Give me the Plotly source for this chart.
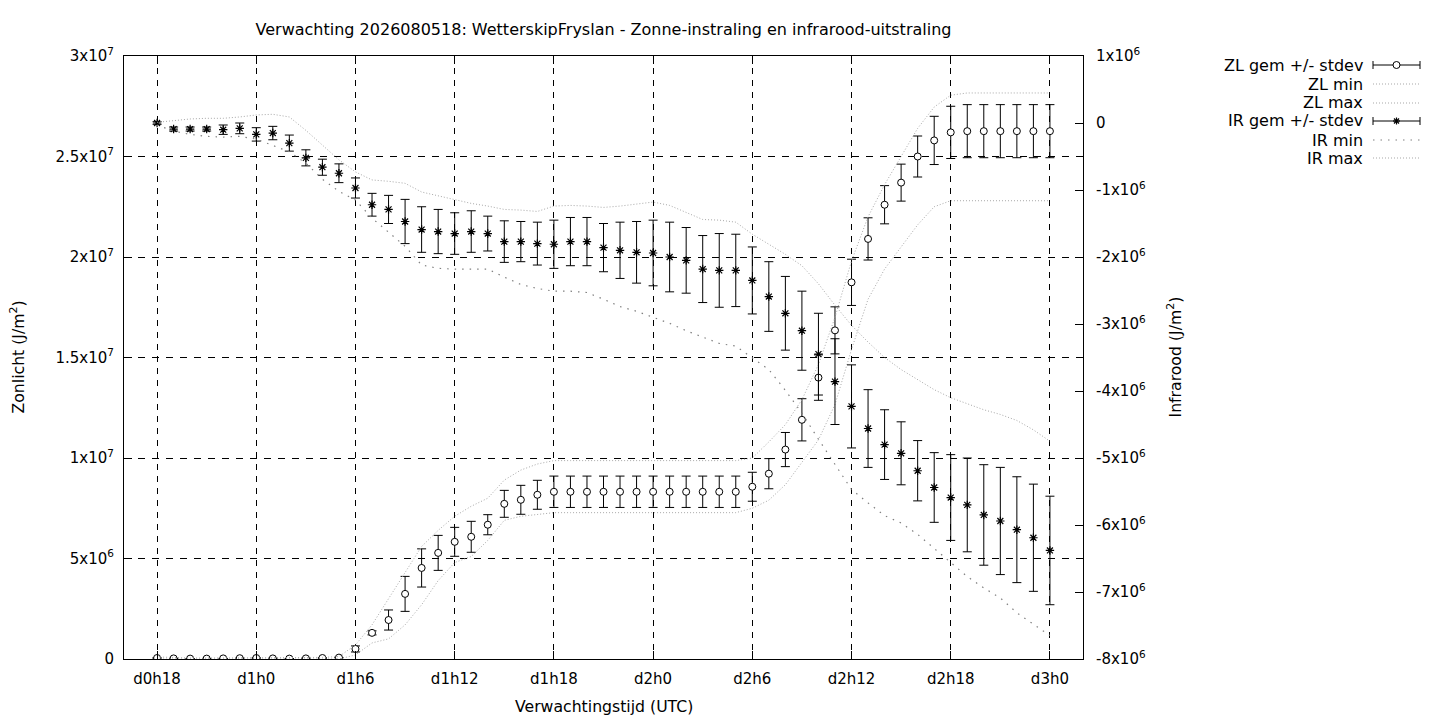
import plotly.graph_objects as go
import numpy as np

# uren sinds d0h0, één punt per uur
uren = list(range(18, 73))

x_tickvals = [18, 24, 30, 36, 42, 48, 54, 60, 66, 72]
x_ticktext = ["d0h18", "d1h0", "d1h6", "d1h12", "d1h18", "d2h0", "d2h6", "d2h12", "d2h18", "d3h0"]

# zonlicht in MJ/m2
zl_gem = [0.05, 0.03, 0.02, 0.02, 0.03, 0.04, 0.05, 0.03, 0.02, 0.03, 0.05, 0.07,
          0.5, 1.3, 1.94, 3.24, 4.53, 5.28, 5.83, 6.08, 6.68, 7.72, 7.92, 8.17,
          8.32, 8.32, 8.32, 8.32, 8.32, 8.32, 8.32, 8.32, 8.32, 8.32, 8.32, 8.32,
          8.57, 9.22, 10.42, 11.9, 14.0, 16.35, 18.74, 20.9, 22.6, 23.7, 25.0, 25.8, 26.2,
          26.26, 26.26, 26.26, 26.26, 26.26, 26.26]
zl_sd = [0, 0, 0, 0, 0, 0, 0, 0, 0, 0, 0, 0,
         0.15, 0.1, 0.5, 0.87, 0.95, 0.87, 0.72, 0.77, 0.5, 0.67, 0.72, 0.72,
         0.78, 0.78, 0.78, 0.78, 0.78, 0.78, 0.78, 0.78, 0.78, 0.78, 0.78, 0.78,
         0.72, 0.75, 0.85, 1.05, 1.13, 1.17, 1.15, 1.05, 0.95, 0.92, 1.02, 1.2, 1.3,
         1.32, 1.32, 1.32, 1.32, 1.32, 1.32]
zl_min = [0, 0, 0, 0, 0, 0, 0, 0, 0, 0, 0, 0,
          0.2, 0.8, 1.0, 1.7, 2.7, 3.9, 4.8, 5.1, 5.9, 6.9, 7.1, 7.2,
          7.28, 7.28, 7.28, 7.28, 7.28, 7.28, 7.28, 7.28, 7.28, 7.28, 7.28, 7.28,
          7.5, 7.9, 8.67, 9.77, 10.9, 12.66, 15.4, 17.9, 19.4, 20.5, 21.6, 22.5, 22.8,
          22.8, 22.8, 22.8, 22.8, 22.8, 22.8]
zl_max = [0.1, 0.06, 0.05, 0.05, 0.05, 0.06, 0.08, 0.06, 0.05, 0.06, 0.08, 0.12,
          0.7, 1.7, 3.0, 4.3, 5.6, 6.4, 7.1, 7.6, 8.0, 8.9, 9.4, 9.7,
          9.87, 9.87, 9.87, 9.87, 9.87, 9.87, 9.87, 9.87, 9.87, 9.87, 9.87, 9.87,
          10.0, 10.8, 11.66, 12.9, 14.65, 17.0, 19.8, 22.0, 23.6, 25.0, 26.4, 27.46, 28.05,
          28.16, 28.16, 28.16, 28.16, 28.16, 28.16]

# infrarood in MJ/m2
ir_gem = [0.0, -0.09, -0.09, -0.09, -0.10, -0.08, -0.17, -0.15, -0.30, -0.52, -0.66, -0.75,
          -0.97, -1.22, -1.29, -1.47, -1.59, -1.62, -1.65, -1.62, -1.65, -1.77, -1.77, -1.80,
          -1.81, -1.77, -1.77, -1.86, -1.90, -1.93, -1.94, -2.00, -2.05, -2.18, -2.20, -2.20,
          -2.35, -2.59, -2.84, -3.10, -3.45, -3.86, -4.23, -4.56, -4.80, -4.93, -5.19, -5.44, -5.59,
          -5.70, -5.85, -5.94, -6.07, -6.19, -6.38]
ir_sd = [0.02, 0.03, 0.03, 0.03, 0.07, 0.08, 0.10, 0.10, 0.12, 0.12, 0.12, 0.14,
         0.15, 0.17, 0.21, 0.33, 0.34, 0.33, 0.31, 0.31, 0.26, 0.31, 0.30, 0.32,
         0.36, 0.36, 0.36, 0.36, 0.42, 0.46, 0.49, 0.52, 0.49, 0.50, 0.55, 0.54,
         0.50, 0.52, 0.55, 0.59, 0.61, 0.64, 0.62, 0.58, 0.52, 0.47, 0.45, 0.52, 0.64,
         0.70, 0.75, 0.80, 0.79, 0.80, 0.81]
ir_min = [-0.03, -0.12, -0.17, -0.20, -0.21, -0.20, -0.24, -0.33, -0.43, -0.60, -0.84, -1.02,
          -1.15, -1.42, -1.63, -1.84, -2.12, -2.17, -2.18, -2.18, -2.18, -2.30, -2.41, -2.47,
          -2.51, -2.51, -2.53, -2.63, -2.74, -2.81, -2.90, -2.99, -3.10, -3.20, -3.29, -3.33,
          -3.50, -3.68, -3.99, -4.33, -4.72, -5.10, -5.47, -5.67, -5.86, -5.97, -6.14, -6.35, -6.56,
          -6.77, -6.94, -7.09, -7.31, -7.48, -7.65]
ir_max = [0.01, 0.04, 0.06, 0.07, 0.07, 0.09, 0.12, 0.13, 0.09, -0.11, -0.33, -0.55,
          -0.73, -0.85, -0.87, -0.90, -1.03, -1.09, -1.14, -1.20, -1.24, -1.29, -1.30, -1.32,
          -1.24, -1.23, -1.24, -1.26, -1.24, -1.21, -1.18, -1.23, -1.33, -1.44, -1.45, -1.48,
          -1.66, -1.81, -1.96, -2.13, -2.40, -2.72, -3.02, -3.27, -3.50, -3.68, -3.83, -3.98, -4.10,
          -4.19, -4.28, -4.35, -4.44, -4.58, -4.75]

zl_tickvals = [0, 5e6, 1e7, 1.5e7, 2e7, 2.5e7, 3e7]
zl_ticktext = ["0", "5x10<sup>6</sup>", "1x10<sup>7</sup>", "1.5x10<sup>7</sup>",
               "2x10<sup>7</sup>", "2.5x10<sup>7</sup>", "3x10<sup>7</sup>"]
ir_tickvals = [-8e6, -7e6, -6e6, -5e6, -4e6, -3e6, -2e6, -1e6, 0, 1e6]
ir_ticktext = ["-8x10<sup>6</sup>", "-7x10<sup>6</sup>", "-6x10<sup>6</sup>", "-5x10<sup>6</sup>",
               "-4x10<sup>6</sup>", "-3x10<sup>6</sup>", "-2x10<sup>6</sup>", "-1x10<sup>6</sup>",
               "0", "1x10<sup>6</sup>"]

M = 1e6
FONT = "DejaVu Sans"
DOT_FIJN = "1px,2px"
DOT_GROF = "1.5px,6px"
GRIJS = "#a8a8a8"
GRIJS_DONKER = "#808080"

# plotgebied in pixels (voor legenda en titels)
PL, PR, PT, PB = 124, 1083, 56, 659


def px_x(px):
    return (px - PL) / (PR - PL)


def px_y(py):
    return (PB - py) / (PB - PT)


fig = go.Figure()

# zonlicht
fig.add_trace(go.Scatter(
    x=uren, y=np.array(zl_gem) * M, mode="markers", name="ZL gem +/- stdev",
    error_y=dict(type="data", array=np.array(zl_sd) * M, color="black", thickness=1, width=4.5),
    marker=dict(symbol="circle", size=7, color="white", line=dict(color="black", width=1)),
))
fig.add_trace(go.Scatter(x=uren, y=np.array(zl_min) * M, mode="lines", name="ZL min",
                         line=dict(color=GRIJS, width=1, dash=DOT_FIJN)))
fig.add_trace(go.Scatter(x=uren, y=np.array(zl_max) * M, mode="lines", name="ZL max",
                         line=dict(color=GRIJS, width=1, dash=DOT_FIJN)))

# infrarood
fig.add_trace(go.Scatter(
    x=uren, y=np.array(ir_gem) * M, mode="markers", name="IR gem +/- stdev", yaxis="y2",
    error_y=dict(type="data", array=np.array(ir_sd) * M, color="black", thickness=1, width=4.5),
    marker=dict(symbol="asterisk-open", size=7, color="black", line=dict(color="black", width=1.2)),
))
fig.add_trace(go.Scatter(x=uren, y=np.array(ir_min) * M, mode="lines", name="IR min", yaxis="y2",
                         line=dict(color=GRIJS_DONKER, width=1.2, dash=DOT_GROF)))
fig.add_trace(go.Scatter(x=uren, y=np.array(ir_max) * M, mode="lines", name="IR max", yaxis="y2",
                         line=dict(color=GRIJS, width=1, dash=DOT_FIJN)))

# legenda op gnuplot-manier: tekst rechts uitgelijnd, voorbeeld erachter
legenda = [
    ("ZL gem +/- stdev", "fout_cirkel"),
    ("ZL min", "fijn"),
    ("ZL max", "fijn"),
    ("IR gem +/- stdev", "fout_ster"),
    ("IR min", "grof"),
    ("IR max", "fijn"),
]
rij_y = [65, 84, 103, 121, 140, 158]
lx0, lx1, lxm = 1373, 1420, 1396.5
shapes = []
annotations = []
for (tekst, stijl), ry in zip(legenda, rij_y):
    annotations.append(dict(text=tekst, x=px_x(1365), y=px_y(ry), xref="paper", yref="paper",
                            xanchor="right", yanchor="middle", showarrow=False,
                            font=dict(family=FONT, size=16, color="black")))
    if stijl.startswith("fout"):
        shapes.append(dict(type="line", xref="paper", yref="paper", x0=px_x(lx0), x1=px_x(lx1),
                           y0=px_y(ry), y1=px_y(ry), line=dict(color="black", width=1)))
        for cx in (lx0, lx1):
            shapes.append(dict(type="line", xref="paper", yref="paper", x0=px_x(cx), x1=px_x(cx),
                               y0=px_y(ry - 4), y1=px_y(ry + 4), line=dict(color="black", width=1)))
        if stijl == "fout_cirkel":
            shapes.append(dict(type="circle", xref="paper", yref="paper",
                               x0=px_x(lxm - 3.5), x1=px_x(lxm + 3.5), y0=px_y(ry + 3.5), y1=px_y(ry - 3.5),
                               fillcolor="white", line=dict(color="black", width=1)))
        else:
            for dx, dy in ((3.5, 0), (0, 3.5), (2.5, 2.5), (2.5, -2.5)):
                shapes.append(dict(type="line", xref="paper", yref="paper",
                                   x0=px_x(lxm - dx), x1=px_x(lxm + dx), y0=px_y(ry - dy), y1=px_y(ry + dy),
                                   line=dict(color="black", width=1.2)))
    else:
        shapes.append(dict(type="line", xref="paper", yref="paper", x0=px_x(lx0), x1=px_x(lx1),
                           y0=px_y(ry), y1=px_y(ry),
                           line=dict(color=GRIJS_DONKER if stijl == "grof" else GRIJS, width=1.2,
                                     dash=DOT_GROF if stijl == "grof" else DOT_FIJN)))

# astitels
titel_font = dict(family=FONT, size=15.7, color="black")
annotations += [
    dict(text="Zonlicht (J/m<sup>2</sup>)", x=px_x(18), y=0.5, xref="paper", yref="paper",
         textangle=-90, showarrow=False, xanchor="center", yanchor="middle", font=titel_font),
    dict(text="Infrarood (J/m<sup>2</sup>)", x=px_x(1175), y=0.5, xref="paper", yref="paper",
         textangle=-90, showarrow=False, xanchor="center", yanchor="middle", font=titel_font),
    dict(text="Verwachtingstijd (UTC)", x=0.5, y=px_y(706), xref="paper", yref="paper",
         showarrow=False, xanchor="center", yanchor="middle", font=titel_font),
]

fig.update_layout(
    width=1440, height=720,
    margin=dict(l=PL, r=1440 - PR, t=PT, b=720 - PB, pad=0),
    paper_bgcolor="white", plot_bgcolor="white",
    showlegend=False,
    font=dict(family=FONT, size=15, color="black"),
    title=dict(text="Verwachting 2026080518: WetterskipFryslan - Zonne-instraling en infrarood-uitstraling",
               x=0.5, xref="paper", xanchor="center", y=1 - 29 / 720, yref="container", yanchor="middle",
               font=dict(family=FONT, size=16, color="black")),
    xaxis=dict(range=[16, 74], tickvals=x_tickvals, ticktext=x_ticktext,
               ticks="inside", ticklen=8, tickcolor="black", ticklabelstandoff=6,
               showline=True, linecolor="black", linewidth=1, mirror="ticks",
               showgrid=True, gridcolor="black", gridwidth=1, griddash="6px,6px", zeroline=False),
    yaxis=dict(range=[0, 3e7], tickvals=zl_tickvals, ticktext=zl_ticktext,
               ticks="inside", ticklen=8, tickcolor="black", ticklabelstandoff=6,
               showline=True, linecolor="black", linewidth=1, mirror=True,
               showgrid=True, gridcolor="black", gridwidth=1, griddash="7px,7px", zeroline=False),
    yaxis2=dict(range=[-8e6, 1e6], tickvals=ir_tickvals, ticktext=ir_ticktext, overlaying="y", side="right",
                ticks="inside", ticklen=8, tickcolor="black", ticklabelstandoff=12,
                showline=False, showgrid=False, zeroline=False),
    shapes=shapes,
    annotations=annotations,
)

# browser-marge van de pagina weghalen, zodat de figuur precies het venster vult
fig.write_html("out.html", config={"displayModeBar": False},
               post_script="document.body.style.margin='0';")
